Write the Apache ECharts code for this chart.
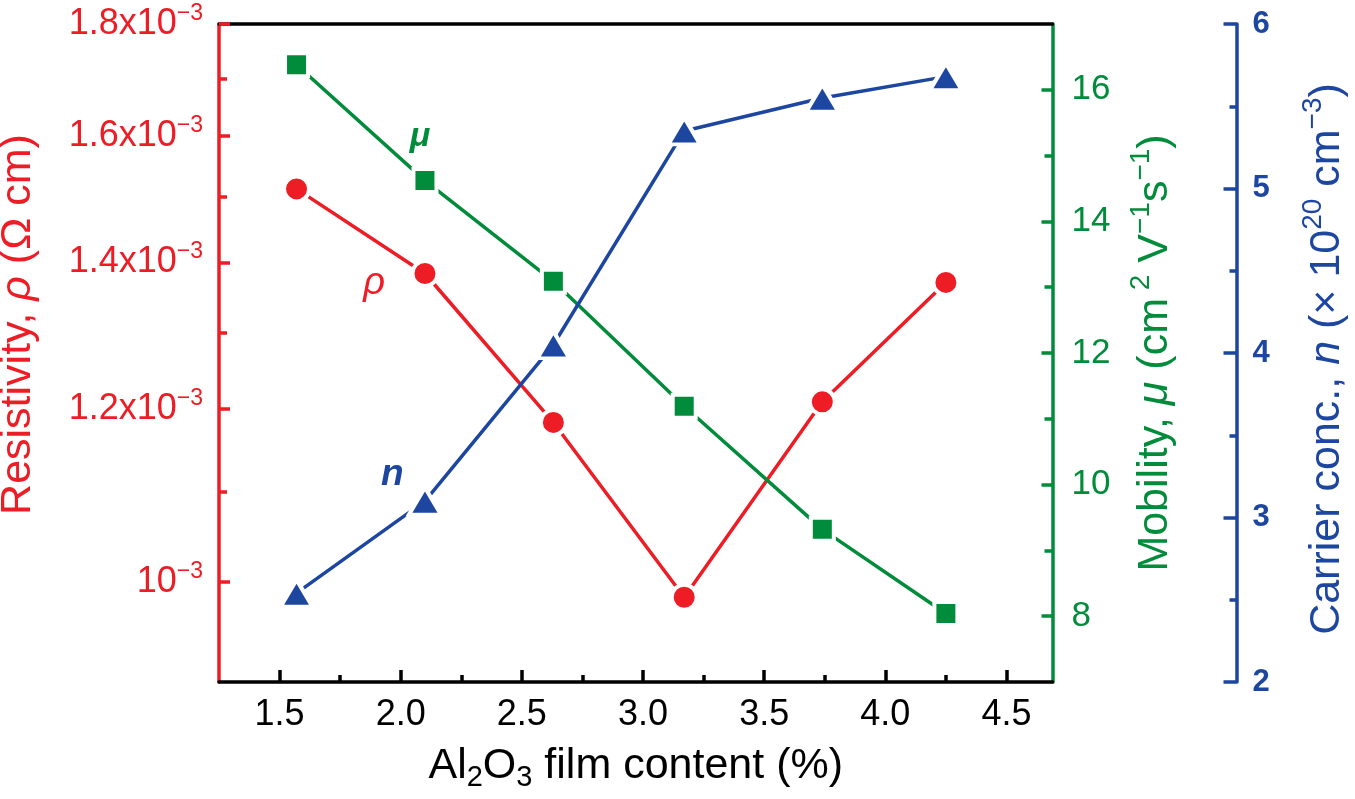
<!DOCTYPE html>
<html>
<head>
<meta charset="utf-8">
<script src="https://cdn.jsdelivr.net/npm/echarts@6/dist/echarts.min.js"></script>
<style>
html,body{margin:0;padding:0;background:#fff;}
#chart{width:1355px;height:799px;}
</style>
</head>
<body>
<div id="chart"></div>
<script>
// ---- data ----
const xContent = [1.57, 2.10, 2.63, 3.17, 3.74, 4.25];
const resistivity = [1.513e-3, 1.384e-3, 1.183e-3, 0.984e-3, 1.209e-3, 1.371e-3];
const mobility = [16.38, 14.62, 13.09, 11.19, 9.32, 8.04];
const carrier = [2.54, 3.10, 4.05, 5.35, 5.55, 5.68];

const xTicks = [1.5, 2.0, 2.5, 3.0, 3.5, 4.0, 4.5];
const xMinorTicks = [1.75, 2.25, 2.75, 3.25, 3.75, 4.25];
const rhoTicks = [1.0e-3, 1.2e-3, 1.4e-3, 1.6e-3, 1.8e-3];
const rhoTickLabels = ['10', '1.2x10', '1.4x10', '1.6x10', '1.8x10'];
const rhoMinorTicks = [1.1e-3, 1.3e-3, 1.5e-3, 1.7e-3];
const muTicks = [8, 10, 12, 14, 16];
const muMinorTicks = [9, 11, 13, 15];

const rhoLabelPos = [1.89, 1.37e-3];
const muLabelPos = [2.08, 15.29];
const nLabelPos = [1.965, 3.26];

// ---- styles ----
const RED = '#ee1c25', GREEN = '#008c3a', BLUE = '#1c46a0';
const FONT = '"Liberation Sans", Arial, Helvetica, sans-serif';
const L = v => Math.log10(v);
const LW = 3.5;

const chart = echarts.init(document.getElementById('chart'), null, {renderer: 'canvas'});

function rhoFormatter(val) {
  for (let i = 0; i < rhoTicks.length; i++) {
    if (Math.abs(L(rhoTicks[i]) - val) < 1e-6) return '{a|' + rhoTickLabels[i] + '}{s|\u22123}';
  }
  return '';
}

const option = {
  animation: false,
  backgroundColor: '#fff',
  grid: {left: 219, right: 302.5, top: 24, bottom: 117, containLabel: false, outerBoundsMode: 'none'},
  xAxis: [
    {
      type: 'value', min: 1.25, max: 4.69, position: 'bottom',
      axisLine: {show: true, onZero: false, lineStyle: {color: '#000', width: LW}},
      axisTick: {show: true, inside: true, length: 12, customValues: xTicks, lineStyle: {color: '#000', width: LW}},
      axisLabel: {show: true, customValues: xTicks, formatter: v => v.toFixed(1), fontSize: 36, lineHeight: 40, color: '#000', fontFamily: FONT, margin: 13},
      splitLine: {show: false},
      name: '{a|Al}{sub|2}{a|O}{sub|3}{a| film content (%)}',
      nameLocation: 'middle', nameGap: 58,
      nameTextStyle: {
        color: '#000', fontFamily: FONT, fontSize: 43,
        rich: {
          a: {fontSize: 43, lineHeight: 52, color: '#000', fontFamily: FONT},
          sub: {fontSize: 29, lineHeight: 14, verticalAlign: 'bottom', color: '#000', fontFamily: FONT}
        }
      }
    },
    {
      type: 'value', min: 1.25, max: 4.69, position: 'bottom',
      axisLine: {show: false, onZero: false},
      axisTick: {show: true, inside: true, length: 7, customValues: xMinorTicks, lineStyle: {color: '#000', width: LW}},
      axisLabel: {show: false},
      splitLine: {show: false}
    },
    {
      type: 'value', min: 1.25, max: 4.69, position: 'top',
      axisLine: {show: true, onZero: false, lineStyle: {color: '#000', width: LW}},
      axisTick: {show: false}, axisLabel: {show: false}, splitLine: {show: false}
    }
  ],
  yAxis: [
    {
      type: 'value', min: L(0.0009), max: L(0.0018), position: 'left',
      axisLine: {show: true, onZero: false, lineStyle: {color: RED, width: LW}},
      axisTick: {show: true, inside: true, length: 11, customValues: rhoTicks.map(L), lineStyle: {color: RED, width: LW}},
      axisLabel: {
        show: true, customValues: rhoTicks.map(L), formatter: rhoFormatter, margin: 16, color: RED,
        rich: {
          a: {fontSize: 36, lineHeight: 44, color: RED, fontFamily: FONT},
          s: {fontSize: 23, lineHeight: 20, verticalAlign: 'top', color: RED, fontFamily: FONT}
        }
      },
      splitLine: {show: false},
      name: '{a|Resistivity, }{i|\u03c1}{a| (\u03a9 cm)}',
      nameLocation: 'middle', nameGap: 179, nameRotate: 90,
      nameTextStyle: {
        color: RED, fontFamily: FONT, fontSize: 43, padding: [0, 0, 0, 57],
        rich: {
          a: {fontSize: 43, lineHeight: 44, color: RED, fontFamily: FONT},
          i: {fontSize: 43, lineHeight: 44, fontStyle: 'italic', color: RED, fontFamily: FONT}
        }
      }
    },
    {
      type: 'value', min: L(0.0009), max: L(0.0018), position: 'left',
      axisLine: {show: false, onZero: false},
      axisTick: {show: true, inside: true, length: 8, customValues: rhoMinorTicks.map(L), lineStyle: {color: RED, width: LW}},
      axisLabel: {show: false}, splitLine: {show: false}
    },
    {
      type: 'value', min: 7, max: 17, position: 'right',
      axisLine: {show: true, onZero: false, lineStyle: {color: GREEN, width: LW}},
      axisTick: {show: true, inside: true, length: 11, customValues: muTicks, lineStyle: {color: GREEN, width: LW}},
      axisLabel: {show: true, customValues: muTicks, fontSize: 35, color: GREEN, fontFamily: FONT, margin: 19},
      splitLine: {show: false},
      name: '{a|Mobility, }{i|\u03bc}{a| (cm}{sup| 2}{a| V}{sup|\u22121}{a|s}{sup|\u22121}{a|)}',
      nameLocation: 'middle', nameGap: 75, nameRotate: 90,
      nameTextStyle: {
        color: GREEN, fontFamily: FONT, fontSize: 43,
        rich: {
          a: {fontSize: 43, lineHeight: 56, color: GREEN, fontFamily: FONT},
          i: {fontSize: 43, lineHeight: 56, fontStyle: 'italic', color: GREEN, fontFamily: FONT},
          sup: {fontSize: 28, lineHeight: 18, verticalAlign: 'top', color: GREEN, fontFamily: FONT}
        }
      }
    },
    {
      type: 'value', min: 7, max: 17, position: 'right',
      axisLine: {show: false, onZero: false},
      axisTick: {show: true, inside: true, length: 8, customValues: muMinorTicks, lineStyle: {color: GREEN, width: LW}},
      axisLabel: {show: false}, splitLine: {show: false}
    },
    {
      type: 'value', min: 2, max: 6, interval: 1, position: 'right', offset: 184,
      axisLine: {show: true, onZero: false, lineStyle: {color: BLUE, width: LW}},
      axisTick: {show: true, inside: true, length: 13, lineStyle: {color: BLUE, width: LW}},
      minorTick: {show: true, splitNumber: 2, length: 7, lineStyle: {color: BLUE, width: LW}},
      axisLabel: {show: true, fontSize: 31, fontWeight: 'bold', color: BLUE, fontFamily: FONT, margin: 16},
      splitLine: {show: false}, minorSplitLine: {show: false},
      name: '{a|Carrier conc., }{i|n}{a| (\u00d7 10}{sup|20}{a| cm}{sup|\u22123}{a|)}',
      nameLocation: 'middle', nameGap: 63, nameRotate: 90,
      nameTextStyle: {
        color: BLUE, fontFamily: FONT, fontSize: 43, padding: [0, 12, 0, 0],
        rich: {
          a: {fontSize: 43, lineHeight: 56, color: BLUE, fontFamily: FONT},
          i: {fontSize: 43, lineHeight: 56, fontStyle: 'italic', color: BLUE, fontFamily: FONT},
          sup: {fontSize: 28, lineHeight: 18, verticalAlign: 'top', color: BLUE, fontFamily: FONT}
        }
      }
    }
  ],
  series: [
    {
      name: 'rho', type: 'line', xAxisIndex: 0, yAxisIndex: 0,
      data: xContent.map((x, i) => [x, L(resistivity[i])]),
      symbol: 'circle', symbolSize: 25,
      itemStyle: {color: RED, borderColor: '#fff', borderWidth: 4},
      lineStyle: {color: RED, width: LW},
      emphasis: {disabled: true}, z: 3
    },
    {
      name: 'mu', type: 'line', xAxisIndex: 0, yAxisIndex: 2,
      data: xContent.map((x, i) => [x, mobility[i]]),
      symbol: 'rect', symbolSize: 23,
      itemStyle: {color: GREEN, borderColor: '#fff', borderWidth: 4},
      lineStyle: {color: GREEN, width: LW},
      emphasis: {disabled: true}, z: 3
    },
    {
      name: 'n', type: 'line', xAxisIndex: 0, yAxisIndex: 4,
      data: xContent.map((x, i) => [x, carrier[i]]),
      symbol: 'triangle', symbolSize: [32, 27],
      itemStyle: {color: BLUE, borderColor: '#fff', borderWidth: 4},
      lineStyle: {color: BLUE, width: LW},
      emphasis: {disabled: true}, z: 3
    },
    {
      type: 'scatter', xAxisIndex: 0, yAxisIndex: 0, symbolSize: 1, itemStyle: {color: 'rgba(0,0,0,0)', opacity: 1},
      data: [[rhoLabelPos[0], L(rhoLabelPos[1])]],
      label: {show: true, position: 'inside', formatter: '\u03c1', color: RED, opacity: 1, fontSize: 38, fontStyle: 'italic', fontFamily: FONT},
      emphasis: {disabled: true}, z: 5
    },
    {
      type: 'scatter', xAxisIndex: 0, yAxisIndex: 2, symbolSize: 1, itemStyle: {color: 'rgba(0,0,0,0)', opacity: 1},
      data: [muLabelPos],
      label: {show: true, position: 'inside', formatter: '\u03bc', color: GREEN, opacity: 1, fontSize: 34, fontStyle: 'italic', fontWeight: 'bold', fontFamily: FONT},
      emphasis: {disabled: true}, z: 5
    },
    {
      type: 'scatter', xAxisIndex: 0, yAxisIndex: 4, symbolSize: 1, itemStyle: {color: 'rgba(0,0,0,0)', opacity: 1},
      data: [nLabelPos],
      label: {show: true, position: 'inside', formatter: 'n', color: BLUE, opacity: 1, fontSize: 37, fontStyle: 'italic', fontWeight: 'bold', fontFamily: FONT},
      emphasis: {disabled: true}, z: 5
    }
  ]
};
chart.setOption(option);
</script>
</body>
</html>
